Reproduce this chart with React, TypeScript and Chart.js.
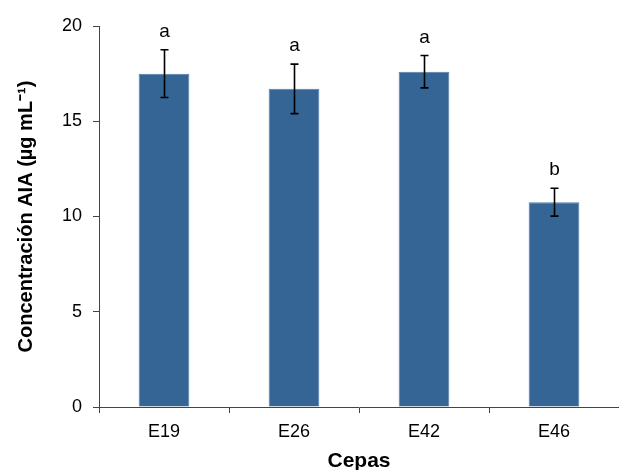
import { useEffect, useRef } from 'react';
import { Chart, registerables } from 'chart.js';

Chart.register(...registerables);

const categories = ['E19', 'E26', 'E42', 'E46'];
const values = [17.5, 16.7, 17.6, 10.75];
const errors = [1.25, 1.3, 0.85, 0.73];
const letters = ['a', 'a', 'a', 'b'];
const yMin = 0;
const yMax = 20;
const yStep = 5;

const FONT = "'Liberation Sans', Arial, sans-serif";

const annotPlugin = {
  id: 'errAnnot',
  afterDatasetsDraw(chart: any) {
    const ctx = chart.ctx;
    const meta = chart.getDatasetMeta(0);
    const y = chart.scales.y;
    ctx.save();
    meta.data.forEach((bar: any, i: number) => {
      const x = Math.round(bar.x) + 0.5;
      const top = y.getPixelForValue(values[i] + errors[i]);
      const bot = y.getPixelForValue(values[i] - errors[i]);
      ctx.strokeStyle = '#000';
      ctx.lineWidth = 1.6;
      ctx.beginPath();
      ctx.moveTo(x, top);
      ctx.lineTo(x, bot);
      ctx.moveTo(x - 4, top);
      ctx.lineTo(x + 4, top);
      ctx.moveTo(x - 4, bot);
      ctx.lineTo(x + 4, bot);
      ctx.stroke();
      ctx.fillStyle = '#000';
      ctx.font = `19px ${FONT}`;
      ctx.textAlign = 'center';
      ctx.textBaseline = 'alphabetic';
      ctx.fillText(letters[i], x, top - 13);
    });
    ctx.restore();
  },
};

export default function App() {
  const ref = useRef<HTMLCanvasElement>(null);
  useEffect(() => {
    const chart = new Chart(ref.current!, {
      type: 'bar',
      data: {
        labels: categories,
        datasets: [
          {
            data: values,
            backgroundColor: '#346594',
            borderColor: '#4f7eab',
            borderWidth: 1,
            barPercentage: 0.39,
            categoryPercentage: 1,
          },
        ],
      },
      options: {
        animation: false,
        responsive: true,
        maintainAspectRatio: false,
        layout: { padding: { top: 26, right: 0, left: 0, bottom: 0 } },
        plugins: { legend: { display: false }, tooltip: { enabled: false } },
        scales: {
          x: {
            grid: {
              display: true,
              drawOnChartArea: false,
              drawTicks: true,
              tickLength: 6,
              color: '#444',
              offset: true,
            },
            border: { display: true, color: '#444', width: 1 },
            ticks: { font: { family: FONT, size: 18 }, color: '#000', padding: 8 },
            title: {
              display: true,
              text: 'Cepas',
              font: { family: FONT, size: 21, weight: 'bold' },
              color: '#000',
              padding: { top: 0, bottom: -4 },
            },
            afterFit: (s: any) => {
              s.height = 63;
            },
          },
          y: {
            min: yMin,
            max: yMax,
            grid: {
              display: true,
              drawOnChartArea: false,
              drawTicks: true,
              tickLength: 6,
              color: '#444',
            },
            border: { display: true, color: '#444', width: 1 },
            ticks: {
              stepSize: yStep,
              font: { family: FONT, size: 18 },
              color: '#000',
              padding: 11,
            },
            title: {
              display: true,
              text: 'Concentración AIA (µg mL⁻¹)',
              font: { family: FONT, size: 20, weight: 'bold' },
              color: '#000',
              padding: { top: 14, bottom: 0 },
            },
            afterFit: (s: any) => {
              s.width = 99;
            },
          },
        },
      },
      plugins: [annotPlugin],
    });
    return () => chart.destroy();
  }, []);
  return (
    <div style={{ position: 'fixed', left: 0, top: 0, width: 619, height: 470, background: '#fff' }}>
      <canvas ref={ref} />
    </div>
  );
}
